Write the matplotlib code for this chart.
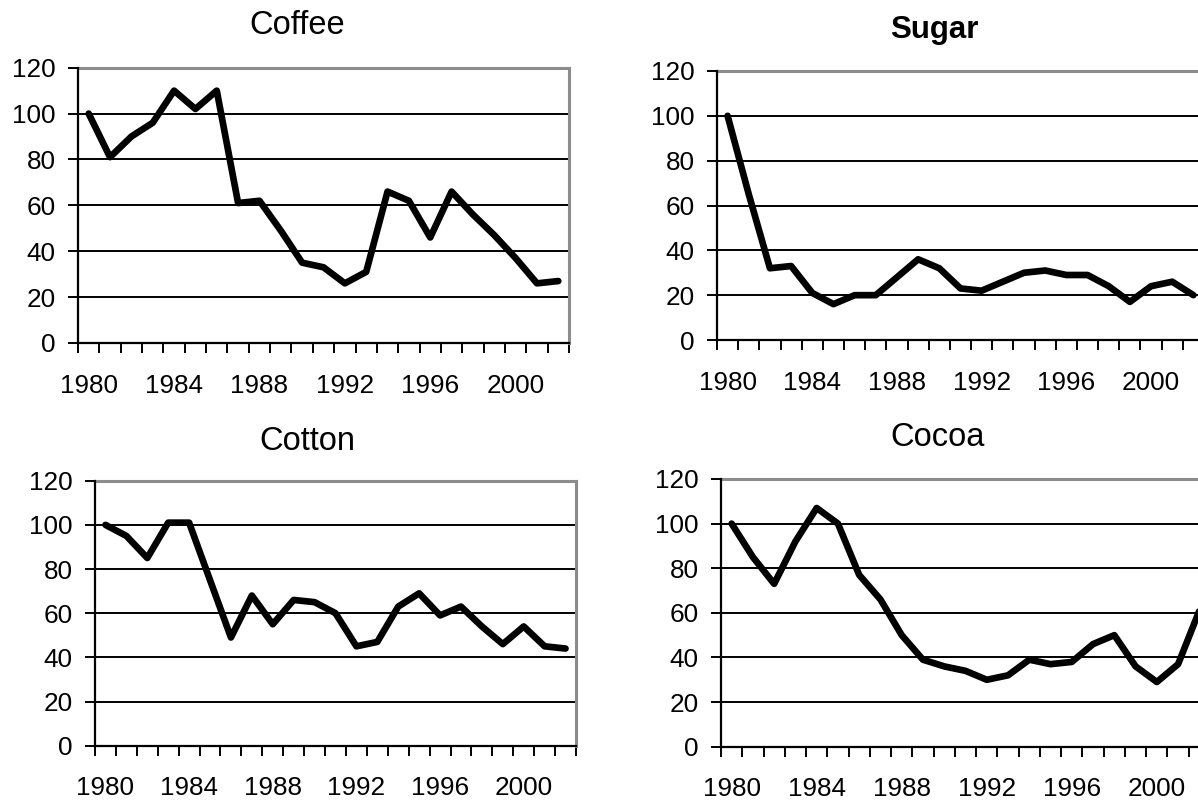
import numpy as np
import matplotlib
matplotlib.use("Agg")
import matplotlib.pyplot as plt

years = list(range(1980, 2003))
coffee = [100, 81, 90, 96, 110, 102, 110, 61, 62, 49, 35, 33, 26, 31, 66, 62, 46, 66, 56, 47, 37, 26, 27]
sugar = [100, 65, 32, 33, 21, 16, 20, 20, 28, 36, 32, 23, 22, 26, 30, 31, 29, 29, 24, 17, 24, 26, 20]
cotton = [100, 95, 85, 101, 101, 75, 49, 68, 55, 66, 65, 60, 45, 47, 63, 69, 59, 63, 54, 46, 54, 45, 44]
cocoa = [100, 85, 73, 92, 107, 100, 77, 66, 50, 39, 36, 34, 30, 32, 39, 37, 38, 46, 50, 36, 29, 37, 61]
year_labels = [1980, 1984, 1988, 1992, 1996, 2000]
y_ticks = [0, 20, 40, 60, 80, 100, 120]

plt.rcParams['font.family'] = ['Liberation Sans', 'DejaVu Sans']

W, H = 1198, 802
fig = plt.figure(figsize=(W / 100, H / 100), dpi=100)
fig.patch.set_facecolor('white')

panels = [
    ("Coffee", coffee, (78, 569, 67.7, 343), (297, 25), 'normal'),
    ("Sugar", sugar, (717, 1204, 71, 340), (934, 30), 'bold'),
    ("Cotton", cotton, (95, 576, 480.7, 745.7), (307, 442), 'normal'),
    ("Cocoa", cocoa, (721, 1210, 479, 746.7), (938, 437), 'normal'),
]

for title, vals, (x0, x1, y0, y1), (tx, ty), weight in panels:
    ax = fig.add_axes([x0 / W, 1 - y1 / H, (x1 - x0) / W, (y1 - y0) / H])
    ax.set_xlim(years[0] - 0.5, years[-1] + 0.5)
    ax.set_ylim(0, 120)
    for g in y_ticks[1:-1]:
        ax.axhline(g, color='black', lw=1.4, zorder=1)
    ax.plot(years, vals, color='black', lw=4.8, solid_joinstyle='round',
            solid_capstyle='round', zorder=3, clip_on=False)
    ax.set_yticks(y_ticks)
    ax.set_yticklabels([str(v) for v in y_ticks], fontsize=18.8)
    ax.set_xticks(np.arange(years[0] - 0.5, years[-1] + 1, 1))
    ax.set_xticklabels([])
    ax.set_xticks(year_labels, minor=True)
    ax.set_xticklabels([str(v) for v in year_labels], minor=True, fontsize=18.8)
    ax.tick_params(axis='x', which='major', direction='out', length=7.2, width=1.4, color='black')
    ax.tick_params(axis='x', which='minor', length=0, pad=22)
    ax.tick_params(axis='y', direction='out', length=7.2, width=1.4, pad=9)
    for s in ('left', 'bottom'):
        ax.spines[s].set_color('black')
        ax.spines[s].set_linewidth(1.6)
        ax.spines[s].set_zorder(4)
    for s in ('top', 'right'):
        ax.spines[s].set_color('#8c8c8c')
        ax.spines[s].set_linewidth(2.2)
    fig.text(tx / W, 1 - ty / H, title, ha='center', va='center',
             fontsize=23.5 if weight == 'normal' else 22.5, fontweight=weight)

fig.savefig("out.png", dpi=100)
